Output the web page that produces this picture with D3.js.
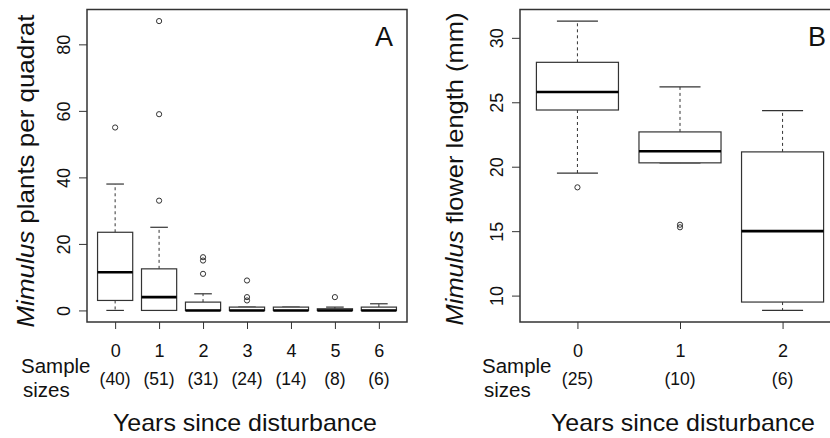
<!DOCTYPE html>
<html>
<head>
<meta charset="utf-8">
<script src="https://cdn.jsdelivr.net/npm/d3@7"></script>
<style>
  html, body { margin: 0; padding: 0; background: #fff; }
  svg { display: block; }
  text { font-family: "Liberation Sans", Arial, sans-serif; fill: #111; }
</style>
</head>
<body>
<svg id="chart" width="830" height="438"></svg>
<script>
// ---------- Panel A data: Mimulus plants per quadrat ----------
const yearsA = ["0", "1", "2", "3", "4", "5", "6"];
const sampleA = [40, 51, 31, 24, 14, 8, 6];
const loA  = [0, 0, 0, 0, 0, 0, 0];
const q1A  = [3, 0, 0, 0, 0, 0, 0];
const medA = [11.5, 4, 0, 0, 0, 0, 0];
const q3A  = [23.5, 12.5, 2.5, 1, 1, 0.5, 1];
const hiA  = [38, 25, 5, 1, 1, 1, 2];
const outA = [[55], [33, 59, 87], [11, 15, 16], [3, 4, 9], [], [4], []];
const ticksA = [0, 20, 40, 60, 80];

// ---------- Panel B data: Mimulus flower length (mm) ----------
const yearsB = ["0", "1", "2"];
const sampleB = [25, 10, 6];
const loB  = [19.5, 20.3, 8.85];
const q1B  = [24.4, 20.3, 9.5];
const medB = [25.8, 21.2, 15.0];
const q3B  = [28.1, 22.7, 21.15];
const hiB  = [31.3, 26.2, 24.35];
const outB = [[18.4], [15.3, 15.5], []];
const ticksB = [10, 15, 20, 25, 30];

const svg = d3.select("#chart");
const INK = "#333";

function panel(opt) {
  const n = opt.years.length;
  const left = opt.left, right = left + 320, top = 9.5, bottom = 322;
  // R-style 4% axis extension
  const xpad = n * 0.04;
  const x = d3.scaleLinear().domain([0.5 - xpad / 2, n + 0.5 + xpad / 2]).range([left, right]);
  const all = opt.lo.concat(opt.hi, ...opt.out);
  const mn = d3.min(all), mx = d3.max(all), pad = (mx - mn) * 0.04;
  const y = d3.scaleLinear().domain([mn - pad, mx + pad]).range([bottom, top]);
  const g = svg.append("g");
  const bw = x(1.4) - x(1);       // half box width
  const sw = bw / 2;              // half staple width

  const stats = opt.years.map((d, i) => ({
    i: i + 1, lo: opt.lo[i], q1: opt.q1[i], med: opt.med[i], q3: opt.q3[i], hi: opt.hi[i], out: opt.out[i]
  }));
  const bx = g.selectAll("g.box").data(stats).enter().append("g");
  // whiskers (dashed)
  bx.append("line").attr("x1", d => x(d.i)).attr("x2", d => x(d.i))
    .attr("y1", d => y(d.q3)).attr("y2", d => y(d.hi))
    .attr("stroke", INK).attr("stroke-width", 1).attr("stroke-dasharray", "3,3");
  bx.append("line").attr("x1", d => x(d.i)).attr("x2", d => x(d.i))
    .attr("y1", d => y(d.q1)).attr("y2", d => y(d.lo))
    .attr("stroke", INK).attr("stroke-width", 1).attr("stroke-dasharray", "3,3");
  // staples
  bx.append("line").attr("x1", d => x(d.i) - sw).attr("x2", d => x(d.i) + sw)
    .attr("y1", d => y(d.hi)).attr("y2", d => y(d.hi))
    .attr("stroke", INK).attr("stroke-width", 1.2);
  bx.append("line").attr("x1", d => x(d.i) - sw).attr("x2", d => x(d.i) + sw)
    .attr("y1", d => y(d.lo)).attr("y2", d => y(d.lo))
    .attr("stroke", INK).attr("stroke-width", 1.2);
  // box
  bx.append("rect").attr("x", d => x(d.i) - bw).attr("width", 2 * bw)
    .attr("y", d => y(d.q3)).attr("height", d => Math.max(0, y(d.q1) - y(d.q3)))
    .attr("fill", "#fff").attr("stroke", INK).attr("stroke-width", 1.2);
  // median
  bx.append("line").attr("x1", d => x(d.i) - bw).attr("x2", d => x(d.i) + bw)
    .attr("y1", d => y(d.med)).attr("y2", d => y(d.med))
    .attr("stroke", "#000").attr("stroke-width", 2.6);
  // outliers
  bx.selectAll("circle").data(d => d.out.map(v => ({ i: d.i, v }))).enter().append("circle")
    .attr("cx", d => x(d.i)).attr("cy", d => y(d.v)).attr("r", 2.6)
    .attr("fill", "none").attr("stroke", INK).attr("stroke-width", 1);

  // frame
  g.append("rect").attr("x", left).attr("y", top).attr("width", right - left).attr("height", bottom - top)
    .attr("fill", "none").attr("stroke", INK).attr("stroke-width", 1.5);

  // y axis
  const ya = g.append("g").attr("transform", `translate(${left},0)`)
    .call(d3.axisLeft(y).tickValues(opt.ticks).tickSize(8).tickFormat(d3.format("d")));
  ya.select(".domain").remove();
  ya.selectAll(".tick line").attr("stroke", INK);
  ya.selectAll(".tick text").attr("transform", "rotate(-90)").attr("x", 0).attr("y", -17.5)
    .attr("dy", 0).attr("text-anchor", "middle").style("font-size", "18px")
    .style("font-family", '"Liberation Sans", Arial, sans-serif').attr("fill", "#111");

  // x axis
  const xa = g.append("g").attr("transform", `translate(0,${bottom})`)
    .call(d3.axisBottom(x).tickValues(d3.range(1, n + 1)).tickSize(7).tickFormat(d => opt.years[d - 1]));
  xa.select(".domain").remove();
  xa.selectAll(".tick line").attr("stroke", INK);
  xa.selectAll(".tick text").attr("y", 35).attr("dy", 0).style("font-size", "18px")
    .style("font-family", '"Liberation Sans", Arial, sans-serif').attr("fill", "#111");

  // sample sizes
  g.selectAll("text.n").data(opt.n).enter().append("text")
    .attr("x", (d, i) => x(i + 1)).attr("y", 385).attr("text-anchor", "middle")
    .style("font-size", "17.5px").text(d => `(${d})`);
  g.append("text").attr("x", opt.sampleX).attr("y", 373).style("font-size", "20.5px").text("Sample");
  g.append("text").attr("x", opt.sampleX + 2).attr("y", 396.5).style("font-size", "20.5px").text("sizes");

  // x title
  g.append("text").attr("x", opt.xTitleX).attr("y", 430.5).attr("text-anchor", "middle")
    .attr("textLength", 264).attr("lengthAdjust", "spacingAndGlyphs")
    .style("font-size", "24px").text("Years since disturbance");

  // y title
  const yt = g.append("text").attr("transform", `translate(${opt.yTitleX},${opt.yTitleY}) rotate(-90)`)
    .attr("text-anchor", "middle").attr("textLength", 313).attr("lengthAdjust", "spacingAndGlyphs")
    .style("font-size", "24px");
  yt.append("tspan").style("font-style", "italic").text("Mimulus");
  yt.append("tspan").text(opt.yTitleRest);

  // panel letter
  g.append("text").attr("x", opt.letterX).attr("y", 45.5).attr("text-anchor", "middle")
    .style("font-size", "27px").text(opt.letter);
}

panel({
  left: 87, years: yearsA, n: sampleA, lo: loA, q1: q1A, med: medA, q3: q3A, hi: hiA, out: outA,
  ticks: ticksA, sampleX: 21, xTitleX: 245, yTitleX: 34, yTitleY: 171,
  yTitleRest: " plants per quadrat", letter: "A", letterX: 384
});
panel({
  left: 520, years: yearsB, n: sampleB, lo: loB, q1: q1B, med: medB, q3: q3B, hi: hiB, out: outB,
  ticks: ticksB, sampleX: 482, xTitleX: 683, yTitleX: 463, yTitleY: 169,
  yTitleRest: " flower length (mm)", letter: "B", letterX: 817
});
</script>
</body>
</html>
